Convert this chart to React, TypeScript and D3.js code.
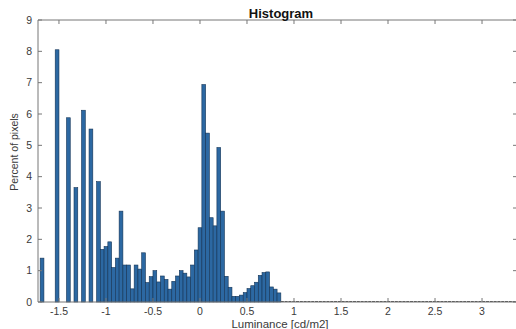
import React from "react";
import * as d3 from "d3";

// Histogram of luminance values: fixed-width bins starting at binStart.
const binStart = -1.7;
const binWidth = 0.04;
const totalBins = 127; // bins cover the full luminance range up to ~3.38
const percents: number[] = [
  1.40, 0, 0, 0, 8.05, 0, 0, 5.88, 0, 3.65,
  0, 6.12, 0, 5.52, 0, 3.84, 1.68, 1.77, 1.92, 1.10,
  1.40, 2.90, 1.18, 1.18, 0.42, 1.18, 1.05, 1.57, 0.62, 0.81,
  1.00, 0.64, 0.83, 0.72, 0.41, 0.66, 0.83, 1.00, 0.92, 0.80,
  1.18, 1.66, 2.37, 6.94, 5.39, 2.69, 2.43, 4.93, 2.90, 0.82,
  0.47, 0.18, 0.18, 0.22, 0.30, 0.43, 0.52, 0.63, 0.85, 0.94,
  0.96, 0.48, 0.41, 0.29,
];

const xTicks = [-1.5, -1, -0.5, 0, 0.5, 1, 1.5, 2, 2.5, 3];
const yTicks = [0, 1, 2, 3, 4, 5, 6, 7, 8, 9];
const xDomain: [number, number] = [-1.723, 3.372];
const yDomain: [number, number] = [0, 9];

const W = 516;
const H = 329;
const M = { left: 38, right: 517, top: 20, bottom: 302 };

const axisColor = "#777";
const labelColor = "#3a3a3a";
const font = "'Liberation Sans', Arial, Helvetica, sans-serif";

export default function App() {
  const x = d3.scaleLinear().domain(xDomain).range([M.left, M.right]);
  const y = d3.scaleLinear().domain(yDomain).range([M.bottom, M.top]);
  const tick = 4;

  const lastFilled = percents.length;
  const tailStart = binStart + lastFilled * binWidth;
  const tailEnd = binStart + totalBins * binWidth;

  return (
    <div style={{ position: "absolute", left: 0, top: 0 }}>
      <svg width={W} height={H} style={{ display: "block", background: "#fff" }}>
        <defs>
          <clipPath id="plot">
            <rect x={M.left} y={M.top - 1} width={M.right - M.left} height={M.bottom - M.top + 2} />
          </clipPath>
        </defs>

        {/* bars */}
        <g clipPath="url(#plot)">
          {percents.map((v, i) =>
            v > 0 ? (
              <rect
                key={i}
                x={x(binStart + i * binWidth)}
                y={y(v)}
                width={x(binStart + (i + 1) * binWidth) - x(binStart + i * binWidth)}
                height={y(0) - y(v)}
                fill="#2c68a2"
                stroke="#143456"
                strokeWidth={0.6}
              />
            ) : null
          )}
          {/* empty bins drawn as flat edges along the baseline */}
          <line
            x1={x(tailStart)}
            x2={x(tailEnd)}
            y1={y(0) - 0.5}
            y2={y(0) - 0.5}
            stroke="#4a4a4a"
            strokeWidth={1}
            strokeDasharray="3,0.8"
          />
        </g>

        {/* axes box */}
        <line x1={M.left} x2={M.right} y1={M.top} y2={M.top} stroke={axisColor} />
        <line x1={M.left} x2={M.right} y1={M.bottom} y2={M.bottom} stroke={axisColor} />
        <line x1={M.left} x2={M.left} y1={M.top} y2={M.bottom} stroke={axisColor} />
        <line x1={M.right} x2={M.right} y1={M.top} y2={M.bottom} stroke={axisColor} />

        {/* x ticks */}
        {xTicks.map((t) => (
          <g key={`x${t}`}>
            <line x1={x(t)} x2={x(t)} y1={M.bottom} y2={M.bottom - tick} stroke={axisColor} />
            <line x1={x(t)} x2={x(t)} y1={M.top} y2={M.top + tick} stroke={axisColor} />
            <text
              x={x(t)}
              y={M.bottom + 13}
              textAnchor="middle"
              fontSize={10.5}
              fontFamily={font}
              fill={labelColor}
            >
              {t}
            </text>
          </g>
        ))}

        {/* y ticks */}
        {yTicks.map((t) => (
          <g key={`y${t}`}>
            <line x1={M.left} x2={M.left + tick} y1={y(t)} y2={y(t)} stroke={axisColor} />
            <line x1={M.right} x2={M.right - tick} y1={y(t)} y2={y(t)} stroke={axisColor} />
            <text
              x={M.left - 6}
              y={y(t) + 3.5}
              textAnchor="end"
              fontSize={10.5}
              fontFamily={font}
              fill={labelColor}
            >
              {t}
            </text>
          </g>
        ))}

        {/* titles */}
        <text
          x={281}
          y={18}
          textAnchor="middle"
          fontSize={13}
          fontWeight="bold"
          fontFamily={font}
          fill="#111"
        >
          Histogram
        </text>
        <text
          x={280}
          y={328}
          textAnchor="middle"
          fontSize={11.5}
          fontFamily={font}
          fill={labelColor}
        >
          Luminance [cd/m2]
        </text>
        <text
          transform={`translate(18, ${(M.top + M.bottom) / 2 - 9}) rotate(-90)`}
          textAnchor="middle"
          fontSize={10.5}
          fontFamily={font}
          fill={labelColor}
        >
          Percent of pixels
        </text>
      </svg>
    </div>
  );
}
